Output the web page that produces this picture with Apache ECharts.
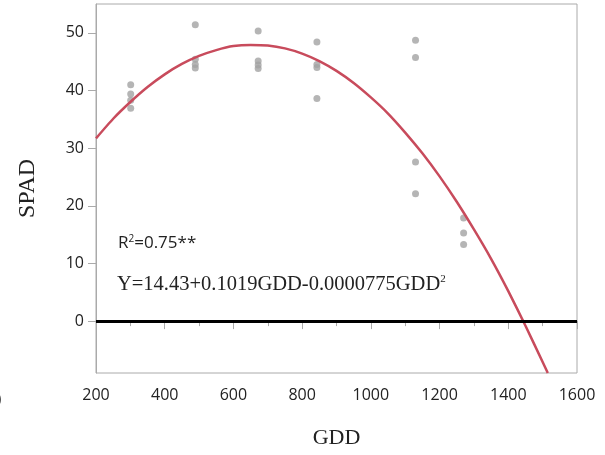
<!DOCTYPE html>
<html><head><meta charset="utf-8">
<script src="https://cdn.jsdelivr.net/npm/echarts@6/dist/echarts.min.js"></script>
<style>html,body{margin:0;padding:0;background:#fff}#c{width:605px;height:455px}</style>
</head><body><div id="c"></div>
<script>
// Observed points (GDD, SPAD)
const obsGDD = [301,301,301,301, 489,489,489,489, 672,672,672,672, 843,843,843,843, 1130,1130,1130,1130, 1270,1270,1270];
const obsSPAD = [41.0,39.4,38.3,36.9, 51.4,45.4,44.5,43.9, 50.3,45.1,44.4,43.8, 48.4,44.5,44.0,38.6, 48.7,45.7,27.6,22.1, 17.9,15.3,13.3];
// Fitted curve
const curveGDD = [200,250,300,350,400,450,500,550,600,650,700,750,800,850,900,950,1000,1050,1100,1150,1200,1250,1300,1350,1400,1450,1500,1515];
const curveSPAD = [31.7,35.1,38.0,40.6,42.8,44.6,46.0,47.0,47.7,47.9,47.8,47.3,46.4,45.1,43.4,41.3,38.8,36.0,32.7,29.1,25.1,20.7,15.9,10.8,5.2,-0.8,-7.1,-9.0];
const xTicks = [200,400,600,800,1000,1200,1400,1600];
const yTicks = [0,10,20,30,40,50];

const chart = echarts.init(document.getElementById('c'));
const labelFont = {fontFamily:'Open Sans', fontSize:16, color:'#222'};
chart.setOption({
  animation:false,
  grid:{left:96,top:4,right:28,bottom:82,show:true,borderColor:'#aaa',borderWidth:1},
  xAxis:{type:'value',min:200,max:1600,interval:200,
    axisLine:{show:true,lineStyle:{color:'#aaa'}},
    axisTick:{show:true,length:8,lineStyle:{color:'#aaa'}},
    minorTick:{show:true,splitNumber:2,length:5,lineStyle:{color:'#aaa'}},
    splitLine:{show:false},
    axisLabel:Object.assign({margin:14,formatter:v=>String(v)},labelFont),
    name:'GDD',nameLocation:'middle',nameGap:54,
    nameTextStyle:{fontFamily:'Liberation Serif',fontSize:22,color:'#222'}},
  yAxis:{type:'value',min:-9,max:55,
    axisLine:{show:true,lineStyle:{color:'#aaa'}},
    axisTick:{show:true,length:8,customValues:yTicks,lineStyle:{color:'#aaa'}},
    splitLine:{show:false},
    axisLabel:Object.assign({margin:12,customValues:yTicks,formatter:v=>String(v)},labelFont),
    name:'SPAD',nameLocation:'middle',nameGap:56,
    nameTextStyle:{fontFamily:'Liberation Serif',fontSize:24,color:'#222'}},
  series:[
    {type:'scatter',data:obsGDD.map((g,i)=>[g,obsSPAD[i]]),symbolSize:7,
     itemStyle:{color:'#a3a3a3'},z:2,
     markLine:{silent:true,symbol:'none',label:{show:false},
       lineStyle:{color:'#000',width:3,type:'solid'},data:[{yAxis:0}]}},
    {type:'line',data:curveGDD.map((g,i)=>[g,curveSPAD[i]]),smooth:0.2,showSymbol:false,
     lineStyle:{color:'#c84b5c',width:2.5},z:3}
  ],
  graphic:[
    {type:'text',left:118,top:234,style:{
      text:'R{s|2}=0.75**',fontFamily:'Open Sans',fontSize:17,fill:'#222',
      rich:{s:{fontSize:10,fontFamily:'Open Sans',padding:[0,0,9,0]}}}},
    {type:'text',left:117,top:274,style:{
      text:'Y=14.43+0.1019GDD-0.0000775GDD{s|2}',fontFamily:'Liberation Serif',fontSize:20.5,fill:'#222',
      rich:{s:{fontSize:11,fontFamily:'Liberation Serif',padding:[0,0,11,0]}}}},
    {type:'text',left:-3,top:391,style:{text:')',fontFamily:'Open Sans',fontSize:15,fill:'#333'}}
  ]
});
</script></body></html>
